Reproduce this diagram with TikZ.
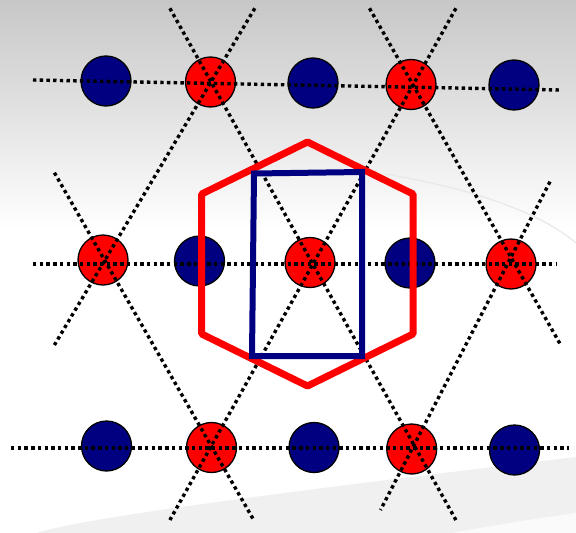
\documentclass[tikz,border=0pt]{standalone}
\begin{document}
\definecolor{navyblue}{RGB}{0,0,128}
\begin{tikzpicture}[x=1pt,y=-1pt,
  atom/.style={circle,draw=black,line width=1.3pt,minimum size=50pt,inner sep=0pt},
  redatom/.style={atom,fill=red},
  blueatom/.style={atom,fill=navyblue},
  bond/.style={line width=3.4pt,dash pattern=on 3.4pt off 3.3pt,black},
  hex/.style={draw=red,line width=7pt,line join=bevel},
  cell/.style={draw=navyblue,line width=6pt,line join=miter}]
% background
\useasboundingbox (0,0) rectangle (576,533);
\fill[white] (0,0) rectangle (576,533);
\shade[top color=black!22,bottom color=white] (0,0) rectangle (576,230);
\fill[black!6] (37,533) .. controls (80,518) and (300,490) .. (576,457) -- (576,533) -- cycle;
\fill[black!2] (452,533) .. controls (500,524) and (540,518) .. (576,513) -- (576,533) -- cycle;
\draw[black!9,line width=1.2pt] (385,174) .. controls (470,188) and (540,212) .. (576,243);
% atoms
\node[blueatom] (b1) at (106,81) {};
\node[redatom]  (r1) at (210.5,82) {};
\node[blueatom] (b2) at (313,83) {};
\node[redatom]  (r2) at (411,84.5) {};
\node[blueatom] (b3) at (514,85) {};
\node[redatom]  (r3) at (103,260) {};
\node[blueatom] (b4) at (199.5,261) {};
\node[redatom]  (r4) at (310,262.5) {};
\node[blueatom] (b5) at (410,263) {};
\node[redatom]  (r5) at (511,264) {};
\node[blueatom] (b6) at (106.5,446) {};
\node[redatom]  (r6) at (211.5,447.5) {};
\node[blueatom] (b7) at (314,447.5) {};
\node[redatom]  (r7) at (411.7,449) {};
\node[blueatom] (b8) at (514.5,450) {};
% line ends
\coordinate (t1) at (33,80);   \coordinate (t2) at (560,90);
\coordinate (m1) at (33,264);  \coordinate (m2) at (557,264);
\coordinate (u1) at (11,448);  \coordinate (u2) at (569,448);
\coordinate (la1) at (254.8,8.3); \coordinate (la2) at (54.4,345);
\coordinate (lb1) at (455.9,8.3); \coordinate (lb2) at (169.9,520);
\coordinate (lc1) at (550,181.7); \coordinate (lc2) at (380.5,510);
\coordinate (ma1) at (169.9,8.3); \coordinate (ma2) at (455.9,520);
\coordinate (mb1) at (369.5,8.3); \coordinate (mb2) at (560.7,345);
\coordinate (mc1) at (54.4,172.7); \coordinate (mc2) at (253.7,520);
\draw[bond] (t1) -- (t2);
\draw[bond] (m1) -- (m2);
\draw[bond] (u1) -- (u2);
\draw[bond] (la1) -- (la2);
\draw[bond] (lb1) -- (lb2);
\draw[bond] (lc1) -- (lc2);
\draw[bond] (ma1) -- (ma2);
\draw[bond] (mb1) -- (mb2);
\draw[bond] (mc1) -- (mc2);
% hexagon
\coordinate (h1) at (307.5,142);
\coordinate (h2) at (413,194);
\coordinate (h3) at (413,334);
\coordinate (h4) at (307.5,386);
\coordinate (h5) at (201.7,334);
\coordinate (h6) at (201.7,194);
\draw[hex] (h1) -- (h2) -- (h3) -- (h4) -- (h5) -- (h6) -- cycle;
% unit cell
\coordinate (c1) at (254,173.5);
\coordinate (c2) at (362,172);
\coordinate (c3) at (362,356);
\coordinate (c4) at (252,356);
\draw[cell] (c1) -- (c2) -- (c3) -- (c4) -- cycle;
\end{tikzpicture}
\end{document}
